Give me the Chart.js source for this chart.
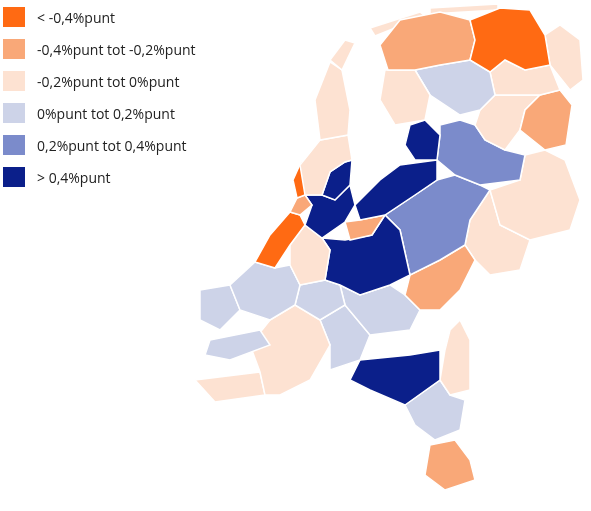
<!DOCTYPE html>
<html>
<head>
<meta charset="utf-8">
<script src="https://cdn.jsdelivr.net/npm/chart.js@4/dist/chart.umd.min.js"></script>
<style>
  body { margin: 0; background: #fff; font-family: "Open Sans", sans-serif; }
  #wrap { position: relative; width: 591px; height: 511px; }
  #legend { position: absolute; left: 3px; top: 1px; font-size: 14px; color: #222; }
  .item { display: flex; align-items: center; height: 32px; }
  .box { width: 22px; height: 20px; margin-right: 12px; }
</style>
</head>
<body>
<div id="wrap">
  <canvas id="map" width="591" height="511"></canvas>
  <div id="legend"></div>
</div>
<script>
// legend classes
const classLabels = ["< -0,4%punt", "-0,4%punt tot -0,2%punt", "-0,2%punt tot 0%punt",
  "0%punt tot 0,2%punt", "0,2%punt tot 0,4%punt", "> 0,4%punt"];
const classColors = ["#ff6a13", "#f9a878", "#fde2d2", "#cdd3e8", "#7b8bcb", "#0b1f8a"];

// region class per region (index into classLabels)
const regionClass = [0, 2, 1, 2, 2, 2, 2, 3, 2, 1, 2, 2, 2, 5, 4, 2, 5, 5, 0, 1, 5, 1,
  0, 2, 5, 4, 1, 2, 3, 3, 3, 3, 3, 2, 2, 3, 5, 2, 3, 1];

// simplified region outlines (map units)
const regionOutlines = [
  [[470,20],[500,8],[530,10],[545,35],[550,65],[525,70],[505,60],[490,72],[470,60],[475,40]],
  [[545,35],[560,25],[580,40],[583,80],[570,90],[550,65]],
  [[380,45],[400,20],[440,12],[470,20],[475,40],[470,60],[440,65],[415,70],[388,70]],
  [[330,60],[345,40],[355,43],[342,70]],
  [[370,28],[420,12],[425,16],[375,36]],
  [[430,8],[498,4],[498,10],[430,14]],
  [[385,70],[415,70],[430,95],[425,120],[395,125],[380,100]],
  [[440,65],[470,60],[490,72],[495,95],[480,110],[460,115],[430,95],[415,70]],
  [[490,72],[505,60],[525,70],[550,65],[560,90],[540,95],[495,95]],
  [[540,95],[560,90],[572,105],[566,145],[545,150],[520,130],[525,110]],
  [[480,110],[495,95],[540,95],[525,110],[520,130],[505,150],[485,140],[475,125]],
  [[330,62],[342,70],[350,110],[348,135],[320,140],[315,100]],
  [[320,140],[348,135],[352,160],[345,162],[330,172],[322,195],[305,195],[300,165]],
  [[410,125],[425,120],[440,135],[437,160],[415,160],[405,145]],
  [[440,125],[460,120],[475,125],[485,140],[505,150],[525,155],[520,180],[480,185],[455,175],[437,160],[440,135]],
  [[525,155],[545,150],[565,160],[580,200],[570,230],[530,240],[500,225],[490,190],[520,180]],
  [[400,165],[437,160],[437,180],[415,195],[385,215],[360,220],[355,205],[380,180]],
  [[330,172],[345,162],[352,160],[350,185],[335,200],[322,195]],
  [[293,180],[302,160],[308,165],[305,195],[297,198]],
  [[297,198],[305,195],[312,205],[300,215],[290,212]],
  [[305,195],[322,195],[335,200],[350,185],[355,205],[345,222],[322,238],[305,225],[312,205]],
  [[345,222],[360,220],[385,215],[372,235],[350,240]],
  [[290,212],[300,215],[305,225],[290,245],[275,268],[255,262],[270,235]],
  [[305,225],[322,238],[330,250],[325,280],[300,285],[290,265],[290,245]],
  [[322,238],[345,240],[372,235],[385,215],[400,230],[410,275],[390,285],[360,295],[340,285],[325,280],[330,250]],
  [[415,195],[437,180],[455,175],[480,185],[490,190],[470,220],[465,245],[440,260],[410,275],[400,230],[385,215]],
  [[440,260],[465,245],[475,260],[460,290],[440,310],[420,310],[405,295],[410,275]],
  [[470,220],[490,190],[500,225],[530,240],[520,270],[490,275],[475,260],[465,245]],
  [[255,262],[275,268],[290,265],[300,285],[295,305],[270,320],[240,310],[230,285]],
  [[300,285],[325,280],[340,285],[345,305],[320,320],[295,305]],
  [[340,285],[360,295],[390,285],[405,295],[420,310],[410,330],[370,335],[345,305]],
  [[200,290],[230,285],[240,310],[220,330],[200,320]],
  [[210,340],[260,330],[270,345],[230,360],[205,355]],
  [[270,320],[295,305],[320,320],[330,345],[310,380],[280,395],[265,395],[260,372],[250,345]],
  [[195,380],[260,372],[265,395],[215,402]],
  [[320,320],[345,305],[370,335],[360,360],[330,370],[330,345]],
  [[360,360],[410,355],[440,350],[440,380],[405,405],[370,390],[350,380]],
  [[450,330],[460,320],[470,340],[470,390],[450,395],[440,380],[445,350]],
  [[405,405],[440,380],[450,395],[465,400],[460,430],[435,440],[415,425]],
  [[430,445],[455,440],[470,460],[475,480],[445,490],[425,475]]
];

const legend = document.getElementById("legend");
classLabels.forEach((label, i) => {
  const row = document.createElement("div");
  row.className = "item";
  row.innerHTML = '<span class="box" style="background:' + classColors[i] + '"></span>' + label;
  legend.appendChild(row);
});

const datasets = regionOutlines.map((pts, i) => {
  const data = pts.map(p => ({ x: p[0], y: p[1] }));
  data.push({ x: pts[0][0], y: pts[0][1] });
  return {
    data: data,
    showLine: true,
    fill: "shape",
    backgroundColor: classColors[regionClass[i]],
    borderColor: "#ffffff",
    borderWidth: 1.5,
    pointRadius: 0,
    tension: 0
  };
});

new Chart(document.getElementById("map"), {
  type: "scatter",
  data: { datasets: datasets },
  options: {
    responsive: false,
    animation: false,
    layout: { padding: 0 },
    plugins: { legend: { display: false }, tooltip: { enabled: false } },
    scales: {
      x: { display: false, min: 0, max: 591 },
      y: { display: false, min: 0, max: 511, reverse: true }
    }
  }
});
</script>
</body>
</html>
